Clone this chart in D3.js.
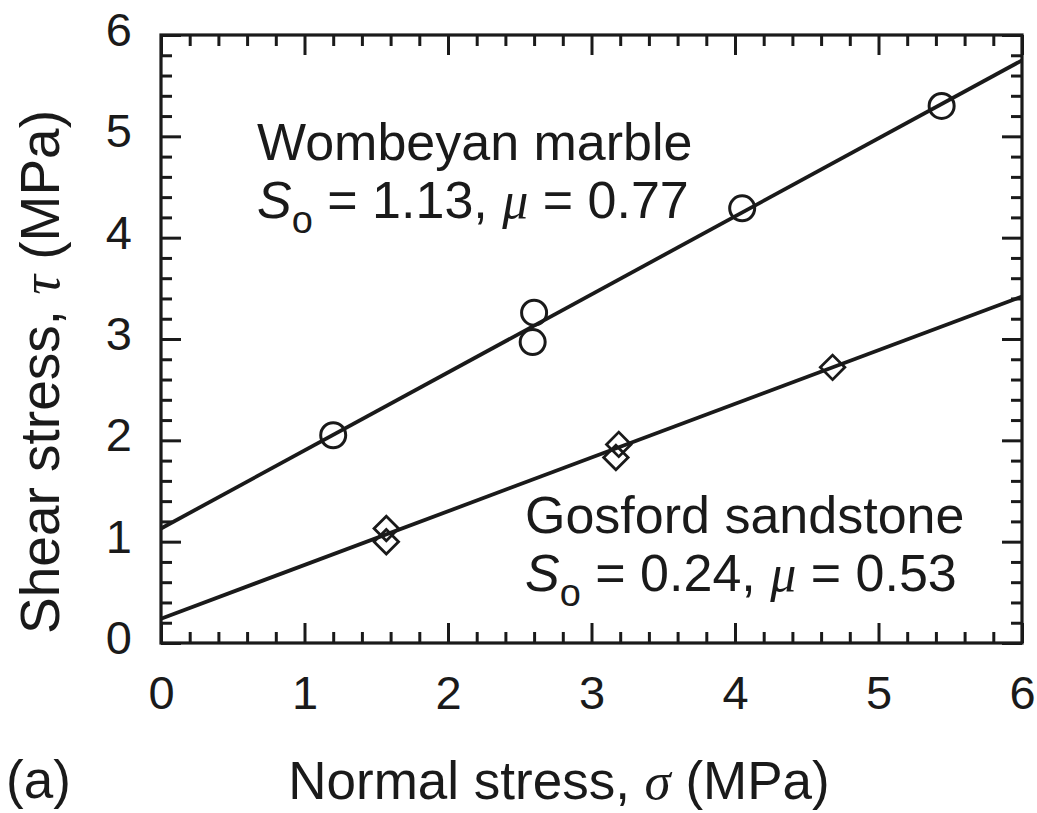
<!DOCTYPE html>
<html>
<head>
<meta charset="utf-8">
<script src="https://cdn.jsdelivr.net/npm/d3@7"></script>
<style>
  body { margin: 0; background: #fff; }
  text { font-family: "Liberation Sans", Arial, sans-serif; fill: #1a1a1a; }
</style>
</head>
<body>
<div id="chart"></div>
<script>
var marbleSigma = [1.2, 2.6, 2.59, 4.05, 5.44]
var marbleTau   = [2.05, 3.26, 2.97, 4.29, 5.30]
var sandSigma = [1.57, 1.57, 3.19, 3.17, 4.68]
var sandTau   = [1.13, 1.0, 1.96, 1.83, 2.72]

// fitted lines: tau = So + mu * sigma
var fitNames = ["Wombeyan marble", "Gosford sandstone"]
var fitSo = [1.13, 0.24]
var fitMu = [0.77, 0.53]

var xTicks = [0, 1, 2, 3, 4, 5, 6]
var yTicks = [0, 1, 2, 3, 4, 5, 6]

var margin = { top: 35, right: 15, bottom: 170, left: 161 }
var width = 1037 - margin.left - margin.right
var height = 813 - margin.top - margin.bottom

var svg = d3.select("#chart")
  .append("svg")
    .attr("width", 1037)
    .attr("height", 813)
  .append("g")
    .attr("transform", "translate(" + margin.left + "," + margin.top + ")")

var x = d3.scaleLinear().domain([0, 6]).range([0, width])
var y = d3.scaleLinear().domain([0, 6]).range([height, 0])

var minors = d3.range(0, 30).map(function (i) { return i / 5 }).filter(function (v) { return v % 1 != 0 })

function styleAxis(g, w) {
  g.select(".domain").remove()
  g.selectAll("line").attr("stroke", "#1a1a1a").attr("stroke-width", w)
}

// major + minor ticks on all four sides, pointing inward
svg.append("g").attr("transform", "translate(0," + height + ")")
  .call(d3.axisBottom(x).tickValues(xTicks).tickSize(-20).tickPadding(33).tickFormat(d3.format("d")))
  .call(styleAxis, 3)
  .selectAll("text").style("font-size", "47px").attr("fill", "#1a1a1a")
svg.append("g").attr("transform", "translate(0," + height + ")")
  .call(d3.axisBottom(x).tickValues(minors).tickSize(-11).tickFormat(""))
  .call(styleAxis, 3)
svg.append("g")
  .call(d3.axisTop(x).tickValues(xTicks).tickSize(-20).tickFormat(""))
  .call(styleAxis, 3)
svg.append("g")
  .call(d3.axisTop(x).tickValues(minors).tickSize(-11).tickFormat(""))
  .call(styleAxis, 3)

svg.append("g")
  .call(d3.axisLeft(y).tickValues(yTicks).tickSize(-20).tickPadding(29).tickFormat(d3.format("d")))
  .call(styleAxis, 3)
  .selectAll("text").style("font-size", "47px").attr("dy", "0.22em").attr("fill", "#1a1a1a")
svg.append("g")
  .call(d3.axisLeft(y).tickValues(minors).tickSize(-11).tickFormat(""))
  .call(styleAxis, 3)
svg.append("g").attr("transform", "translate(" + width + ",0)")
  .call(d3.axisRight(y).tickValues(yTicks).tickSize(-20).tickFormat(""))
  .call(styleAxis, 3)
svg.append("g").attr("transform", "translate(" + width + ",0)")
  .call(d3.axisRight(y).tickValues(minors).tickSize(-11).tickFormat(""))
  .call(styleAxis, 3)

// frame
svg.append("rect")
  .attr("width", width).attr("height", height)
  .attr("fill", "none").attr("stroke", "#1a1a1a").attr("stroke-width", 3.2)

// fit lines
var line = d3.line().x(function (d) { return x(d[0]) }).y(function (d) { return y(d[1]) })
fitSo.forEach(function (so, i) {
  svg.append("path")
    .datum([[0, so], [6, so + fitMu[i] * 6]])
    .attr("d", line)
    .attr("fill", "none")
    .attr("stroke", "#1a1a1a")
    .attr("stroke-width", 3.8)
})

// circles for marble
svg.append("g").selectAll("circle")
  .data(marbleSigma).enter()
  .append("circle")
    .attr("cx", function (d) { return x(d) })
    .attr("cy", function (d, i) { return y(marbleTau[i]) })
    .attr("r", 12.5)
    .attr("fill", "none")
    .attr("stroke", "#1a1a1a")
    .attr("stroke-width", 3)

// diamonds for sandstone
var diamond = d3.symbol().type(d3.symbolSquare).size(300)
svg.append("g").selectAll("path")
  .data(sandSigma).enter()
  .append("path")
    .attr("d", diamond)
    .attr("transform", function (d, i) { return "translate(" + x(d) + "," + y(sandTau[i]) + ") rotate(45)" })
    .attr("fill", "none")
    .attr("stroke", "#1a1a1a")
    .attr("stroke-width", 2.8)

// annotations
function label(tx, ty, name, so, mu) {
  svg.append("text").attr("x", tx).attr("y", ty)
    .style("font-size", "52px").text(name)
  var t = svg.append("text").attr("x", tx).attr("y", ty + 58).style("font-size", "52px")
  t.append("tspan").style("font-style", "italic").text("S")
  t.append("tspan").attr("dy", 15).style("font-size", "38px").text("o")
  t.append("tspan").attr("dy", -15).text(" = " + so.toFixed(2) + ", ")
  t.append("tspan").style("font-family", "'Liberation Serif', serif").style("font-style", "italic").text("\u03bc")
  t.append("tspan").text(" = " + mu.toFixed(2))
}
label(257 - margin.left, 160 - margin.top, fitNames[0], fitSo[0], fitMu[0])
label(525 - margin.left, 533 - margin.top, fitNames[1], fitSo[1], fitMu[1])

// axis titles
var xt = svg.append("text")
  .attr("x", (290 + 828) / 2 - margin.left).attr("y", 799 - margin.top)
  .attr("text-anchor", "middle").style("font-size", "53px")
xt.append("tspan").text("Normal stress, ")
xt.append("tspan").style("font-family", "'Liberation Serif', serif").style("font-style", "italic").text("\u03c3")
xt.append("tspan").text(" (MPa)")

var yt = svg.append("text")
  .attr("transform", "translate(" + (59 - margin.left) + "," + (372 - margin.top) + ") rotate(-90)")
  .attr("text-anchor", "middle").style("font-size", "55px")
yt.append("tspan").text("Shear stress, ")
yt.append("tspan").style("font-family", "'Liberation Serif', serif").style("font-style", "italic").text("\u03c4")
yt.append("tspan").text(" (MPa)")

svg.append("text").attr("x", 6 - margin.left).attr("y", 798 - margin.top)
  .style("font-size", "53px").text("(a)")
</script>
</body>
</html>
